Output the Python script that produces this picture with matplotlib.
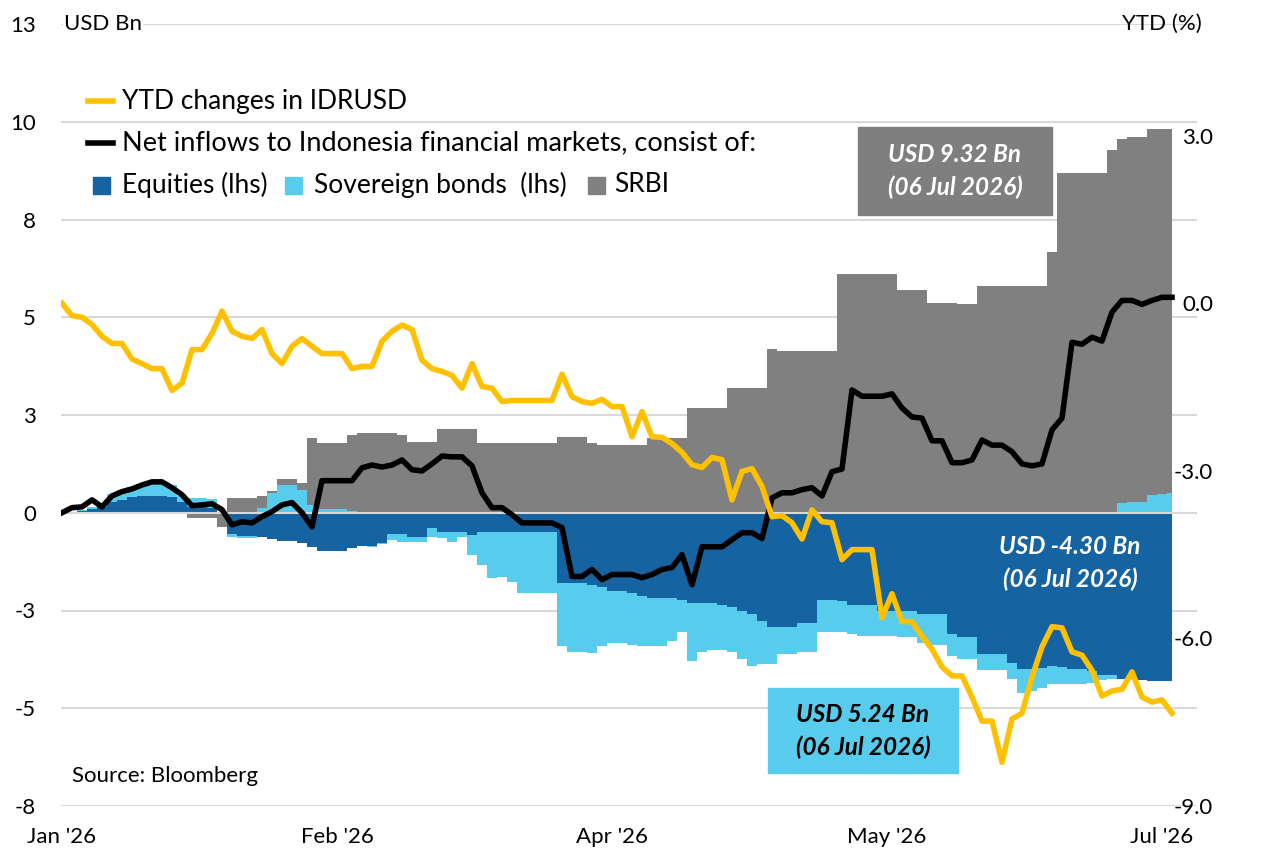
import numpy as np
import matplotlib
matplotlib.use("Agg")
import matplotlib.pyplot as plt
from matplotlib.lines import Line2D
from matplotlib.patches import Rectangle

plt.rcParams['font.family'] = ['Lato', 'DejaVu Sans']

# data (USD bn, lhs) / ytd % (rhs), one value per trading day
ytd_idrusd = [
    0.00, -0.22, -0.25, -0.38, -0.59, -0.72, -0.72, -1.00, -1.08, -1.17,
    -1.17, -1.56, -1.43, -0.83, -0.83, -0.54, -0.14, -0.50, -0.59, -0.63,
    -0.47, -0.90, -1.08, -0.77, -0.63, -0.77, -0.90, -0.90, -0.90, -1.17,
    -1.13, -1.13, -0.68, -0.50, -0.39, -0.47, -1.02, -1.17, -1.22, -1.29,
    -1.52, -1.08, -1.49, -1.52, -1.76, -1.74, -1.74, -1.74, -1.74, -1.74,
    -1.27, -1.67, -1.76, -1.79, -1.72, -1.85, -1.85, -2.39, -1.94, -2.39,
    -2.40, -2.51, -2.67, -2.89, -2.94, -2.76, -2.80, -3.52, -3.01, -2.96,
    -3.28, -3.82, -3.80, -3.93, -4.22, -3.70, -3.91, -3.93, -4.59, -4.41,
    -4.41, -4.41, -5.63, -5.20, -5.70, -5.70, -5.96, -6.19, -6.51, -6.67,
    -6.67, -7.05, -7.48, -7.48, -8.22, -7.44, -7.34, -6.69, -6.15, -5.79,
    -5.81, -6.24, -6.30, -6.57, -7.03, -6.94, -6.91, -6.60, -7.05, -7.14,
    -7.10, -7.34]

net_inflows = [
    0.00, 0.13, 0.15, 0.33, 0.15, 0.43, 0.54, 0.61, 0.71, 0.79,
    0.79, 0.64, 0.46, 0.18, 0.20, 0.23, 0.08, -0.31, -0.23, -0.26,
    -0.10, 0.03, 0.20, 0.26, 0.00, -0.36, 0.82, 0.82, 0.82, 0.82,
    1.15, 1.22, 1.17, 1.22, 1.35, 1.10, 1.07, 1.25, 1.45, 1.43,
    1.43, 1.20, 0.51, 0.13, 0.13, -0.05, -0.26, -0.26, -0.26, -0.26,
    -0.38, -1.63, -1.63, -1.45, -1.71, -1.58, -1.58, -1.58, -1.66, -1.58,
    -1.45, -1.40, -1.07, -1.84, -0.87, -0.87, -0.87, -0.69, -0.51, -0.51,
    -0.66, 0.38, 0.51, 0.51, 0.59, 0.64, 0.43, 1.05, 1.12, 3.14,
    2.98, 2.98, 2.98, 3.04, 2.68, 2.45, 2.42, 1.84, 1.84, 1.28,
    1.28, 1.35, 1.86, 1.73, 1.73, 1.56, 1.25, 1.20, 1.25, 2.12,
    2.42, 4.36, 4.31, 4.49, 4.39, 5.13, 5.43, 5.43, 5.33, 5.43,
    5.51, 5.51]

equities = [
    0.00, 0.02, 0.05, 0.10, 0.15, 0.28, 0.33, 0.40, 0.42, 0.43,
    0.42, 0.40, 0.28, 0.15, 0.15, 0.12, 0.00,
    -0.55, -0.59, -0.60, -0.62, -0.68, -0.71, -0.71, -0.77, -0.87,
    -0.97, -0.97, -0.97, -0.90,
    -0.85, -0.85, -0.77, -0.54, -0.54, -0.61, -0.61, -0.38, -0.48, -0.48,
    -0.48, -0.56, -0.48, -0.48, -0.48, -0.48, -0.48, -0.48, -0.48, -0.48,
    -1.79, -1.79, -1.79, -1.86, -1.91, -2.01, -2.01, -2.05, -2.14, -2.19,
    -2.19, -2.19, -2.22, -2.30, -2.30, -2.30, -2.35, -2.42, -2.52, -2.60,
    -2.78, -2.91, -2.91, -2.91, -2.81, -2.81, -2.22, -2.22, -2.26, -2.37,
    -2.37, -2.37, -2.50, -2.50, -2.50, -2.50, -2.60, -2.60, -2.60, -3.11,
    -3.19, -3.19, -3.62, -3.62, -3.62, -3.85, -4.00, -4.00, -3.98, -3.92,
    -3.95, -4.00, -4.00, -4.05, -4.16, -4.16, -4.24, -4.24, -4.28, -4.30,
    -4.30, -4.30]

sov_bonds = [
    0.00, 0.00, 0.03, 0.05, 0.10, 0.20, 0.25, 0.25, 0.28, 0.30,
    0.32, 0.30, 0.15, 0.22, 0.22, 0.22, 0.00,
    -0.08, -0.05, -0.04, 0.12, 0.50, 0.71, 0.71, 0.59, 0.20,
    0.10, 0.10, 0.10, 0.05,
    0.02, -0.02, -0.02, -0.15, -0.20, -0.13, -0.13, -0.25, -0.16, -0.26,
    -0.14, -0.51, -0.85, -1.18, -1.16, -1.30, -1.56, -1.56, -1.56, -1.56,
    -1.63, -1.78, -1.78, -1.72, -1.51, -1.31, -1.31, -1.32, -1.26, -1.23,
    -1.23, -1.08, -0.82, -1.50, -1.27, -1.20, -1.17, -1.15, -1.23, -1.32,
    -1.10, -0.97, -0.71, -0.71, -0.74, -0.74, -0.82, -0.84, -0.80, -0.73,
    -0.79, -0.79, -0.66, -0.66, -0.69, -0.69, -0.72, -0.77, -0.77, -0.55,
    -0.56, -0.56, -0.40, -0.40, -0.40, -0.39, -0.62, -0.57, -0.50, -0.45,
    -0.44, -0.39, -0.39, -0.30, -0.12, -0.10, 0.26, 0.27, 0.28, 0.45,
    0.48, 0.50]

srbi = [
    0.00, 0.00, 0.00, 0.00, 0.00, 0.00, 0.00, 0.00, 0.00, 0.00,
    0.00, 0.00, 0.00, -0.13, -0.13, -0.13, -0.36,
    0.38, 0.38, 0.38, 0.30, 0.05, 0.16, 0.16, 0.18, 1.71,
    1.69, 1.69, 1.69, 1.95,
    2.02, 2.04, 2.04, 2.03, 2.00, 1.81, 1.81, 1.81, 2.14, 2.14,
    2.14, 2.14, 1.79, 1.79, 1.79, 1.79, 1.79, 1.79, 1.79, 1.79,
    1.94, 1.94, 1.94, 1.79, 1.73, 1.73, 1.73, 1.73, 1.73, 1.91,
    1.91, 1.91, 1.91, 2.68, 2.68, 2.68, 2.68, 3.19, 3.19, 3.19,
    3.19, 4.20, 4.13, 4.13, 4.13, 4.13, 4.13, 4.13, 6.10, 6.10,
    6.10, 6.10, 6.10, 6.10, 5.69, 5.69, 5.69, 5.36, 5.36, 5.36,
    5.33, 5.33, 5.79, 5.79, 5.79, 5.79, 5.79, 5.79, 5.79, 6.68,
    8.70, 8.70, 8.70, 8.70, 8.70, 9.29, 9.31, 9.33, 9.34, 9.37,
    9.34, 9.32]

x_labels = ["Jan '26", "Feb '26", "Apr '26", "May '26", "Jul '26"]
x_label_pos = [0, 27.5, 55, 82.5, 110]
lhs_ticks = [-7.5, -5, -2.5, 0, 2.5, 5, 7.5, 10, 12.5]
lhs_labels = ['-8', '-5', '-3', '0', '3', '5', '8', '10', '13']
rhs_ticks = [-9, -6, -3, 0, 3]

GOLD = '#FFC000'
DARK = '#1563A0'
LIGHT = '#57CCEC'
GREY = '#808080'
GRID = '#d9d9d9'
W, H = 1270, 850

x = np.arange(len(net_inflows))

fig = plt.figure(figsize=(12.7, 8.5), dpi=100)
ax = fig.add_axes([61 / W, 44 / H, (1197 - 61) / W, (806 - 24) / H])

# stacked columns (positive and negative stacked apart, like excel)
pos = np.zeros(len(x))
neg = np.zeros(len(x))
for vals, col in [(equities, DARK), (sov_bonds, LIGHT), (srbi, GREY)]:
    v = np.array(vals)
    base = np.where(v >= 0, pos, neg)
    ax.fill_between(x, base, base + v, step='mid', color=col, lw=0, zorder=2)
    pos = pos + np.where(v >= 0, v, 0)
    neg = neg + np.where(v < 0, v, 0)

ax.axhline(0, color=GRID, lw=1.5, zorder=3)
ax.plot(x, net_inflows, color='black', lw=4, zorder=4, solid_joinstyle='round')

ax.set_xlim(-0.1, 113.5)
ax.set_ylim(-7.5, 12.5)
ax.set_yticks(lhs_ticks)
ax.set_yticklabels(lhs_labels)
ax.set_xticks(x_label_pos)
ax.set_xticklabels(x_labels)
ax.yaxis.grid(True, color=GRID, lw=1.5)
ax.set_axisbelow(True)
ax.tick_params(axis='y', length=0, labelsize=16, pad=18)
ax.tick_params(axis='x', length=0, labelsize=16, pad=15)
for s in ax.spines.values():
    s.set_visible(False)

ax2 = ax.twinx()
ax2.plot(x, ytd_idrusd, color=GOLD, lw=4, solid_joinstyle='round')
ax2.set_ylim(-9, 5)
ax2.set_yticks(rhs_ticks)
ax2.set_yticklabels([f'{t:.1f}' for t in rhs_ticks])
ax2.tick_params(axis='y', length=0, labelsize=16, pad=11.5)
for lab in ax2.get_yticklabels():
    lab.set_horizontalalignment('right')
for s in ax2.spines.values():
    s.set_visible(False)

def fx(px):
    return px / W

def fy(py):
    return 1 - py / H

# axis titles
fig.text(fx(64), fy(24), 'USD Bn', fontsize=16, va='center', ha='left',
         bbox=dict(facecolor='white', edgecolor='none', pad=1))
fig.text(fx(1202), fy(24), 'YTD (%)', fontsize=16, va='center', ha='right')

# legend drawn by hand
fig.add_artist(Line2D([fx(88), fx(113)], [fy(101), fy(101)], color=GOLD, lw=4))
fig.text(fx(122), fy(101), 'YTD changes in IDRUSD', fontsize=19, va='center')
fig.add_artist(Line2D([fx(88), fx(113)], [fy(143), fy(143)], color='black', lw=4))
fig.text(fx(122), fy(143), 'Net inflows to Indonesia financial markets, consist of:',
         fontsize=19.5, va='center')
for sx, tx, col, txt in [(93, 122, DARK, 'Equities (lhs)'),
                         (285, 314, LIGHT, 'Sovereign bonds  (lhs)'),
                         (588, 614, GREY, 'SRBI')]:
    fig.add_artist(Rectangle((fx(sx), fy(194)), 17 / W, 17 / H, color=col,
                             transform=fig.transFigure))
    fig.text(fx(tx), fy(185), txt, fontsize=19, va='center')

# value callouts
fig.add_artist(Rectangle((fx(858), fy(215)), 194 / W, 88 / H, color='#7F7F7F',
                         transform=fig.transFigure, zorder=5))
fig.text(fx(955), fy(171), 'USD 9.32 Bn\n(06 Jul 2026)', color='white', fontsize=17.5,
         fontweight='bold', fontstyle='italic', ha='center', va='center',
         linespacing=1.45, zorder=6)
fig.text(fx(1070), fy(563), 'USD -4.30 Bn\n(06 Jul 2026)', color='white', fontsize=17.5,
         fontweight='bold', fontstyle='italic', ha='center', va='center',
         linespacing=1.45, zorder=6)
fig.add_artist(Rectangle((fx(768), fy(773)), 190 / W, 85 / H, color=LIGHT,
                         transform=fig.transFigure, zorder=5))
fig.text(fx(863), fy(731), 'USD 5.24 Bn\n(06 Jul 2026)', color='black', fontsize=17.5,
         fontweight='bold', fontstyle='italic', ha='center', va='center',
         linespacing=1.45, zorder=6)

fig.text(fx(72), fy(776), 'Source: Bloomberg', fontsize=16, va='center')

fig.savefig('out.png', dpi=100)
